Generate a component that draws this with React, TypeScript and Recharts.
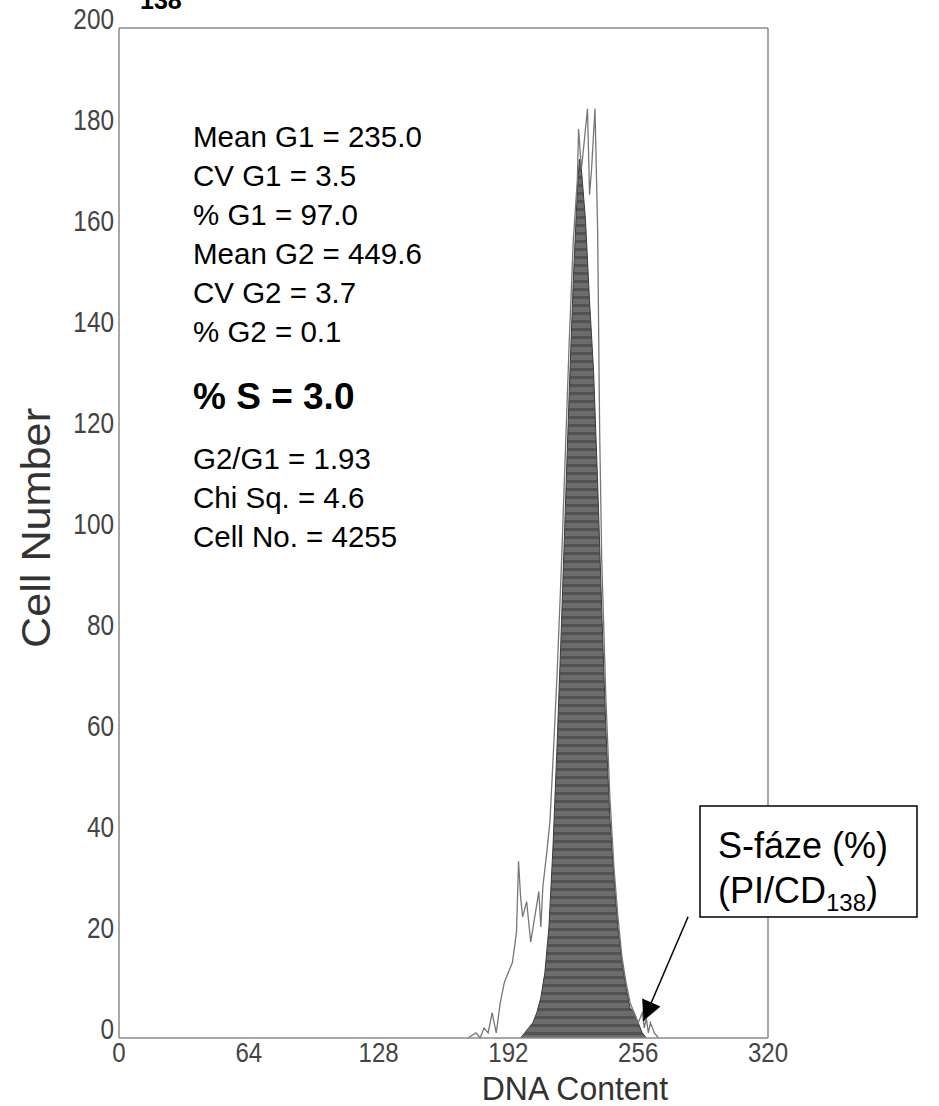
import React from 'react';
import { ComposedChart, Area, Line, XAxis, YAxis, ReferenceLine } from 'recharts';

// G1 fit (shaded peak)
const FIT_X = [198, 200, 202, 204, 206, 208, 210, 212, 214, 216, 218, 220, 222, 224, 226, 227, 228, 230, 232, 234, 236, 238, 240, 242, 244, 246, 248, 250, 252, 254, 256, 258, 260];
const FIT_Y = [0, 1, 2, 3, 5, 8, 13, 22, 38, 58, 80, 104, 128, 150, 168, 174, 172, 162, 146, 132, 110, 85, 62, 44, 32, 22, 15, 10, 6, 5, 3, 1, 0];

// raw histogram outline
const RAW_X = [172, 176, 178, 180, 182, 184, 186, 188, 190, 192, 194, 196, 197, 198, 199, 201, 203, 205, 207, 208, 209, 211, 212.5, 214, 216, 218, 220, 222, 224, 226, 226.6, 228, 229, 231, 232, 233, 234.7, 236, 237, 238, 240, 242, 244, 246, 248, 250, 252, 254, 256, 258, 259, 260, 261, 262, 264, 266];
const RAW_Y = [0, 1, 0, 2, 1, 5, 1, 7, 11, 13, 15, 21, 35, 28, 24, 27, 19, 24, 29, 22, 30, 37, 43, 55, 72, 92, 115, 138, 158, 170, 180, 172, 176, 184, 167, 172, 184, 160, 120, 95, 68, 48, 34, 24, 16, 11, 7, 5, 3, 5, 2, 4, 1, 3, 1, 0];

const X_TICKS = [0, 64, 128, 192, 256, 320];
const Y_TICKS = [0, 20, 40, 60, 80, 100, 120, 140, 160, 180, 200];

const STATS = ['Mean G1 = 235.0', 'CV G1 = 3.5', '% G1 = 97.0', 'Mean G2 = 449.6', 'CV G2 = 3.7', '% G2 = 0.1'];
const S_PHASE = '% S = 3.0';
const STATS2 = ['G2/G1 = 1.93', 'Chi Sq. = 4.6', 'Cell No. = 4255'];

const fitData = FIT_X.map((x, i) => ({ x, fit: FIT_Y[i] }));
const rawData = RAW_X.map((x, i) => ({ x, raw: RAW_Y[i] }));

const SANS = '"Liberation Sans", Arial, sans-serif';

const YTick = (p: any) => (
  <text transform={`translate(${p.x},${p.y + 1}) scale(0.84,1)`} textAnchor="end" fontSize={29} fill="#444" fontFamily={SANS}>{p.payload.value}</text>
);
const XTick = (p: any) => (
  <text transform={`translate(${p.x},${p.y + 24}) scale(0.86,1)`} textAnchor="middle" fontSize={28} fill="#444" fontFamily={SANS}>{p.payload.value}</text>
);

export default function App() {
  return (
    <div style={{ position: 'absolute', left: 0, top: 0, width: 939, height: 1106, background: '#fff' }}>
      <ComposedChart width={939} height={1106} data={fitData} margin={{ top: 28, right: 171, left: 59, bottom: 28 }}>
        <defs>
          <pattern id="bands" width="10" height="8" patternUnits="userSpaceOnUse">
            <rect width="10" height="8" fill="#6c6c6c" />
            <rect width="10" height="3" fill="#525252" />
          </pattern>
          <marker id="arrowHead" viewBox="0 0 10 10" refX="10" refY="5" markerWidth="26" markerHeight="20" markerUnits="userSpaceOnUse" orient="auto">
            <path d="M0,0 L10,5 L0,10 z" fill="#000" />
          </marker>
        </defs>
        <XAxis type="number" dataKey="x" domain={[0, 320]} ticks={X_TICKS} interval={0} height={40}
          axisLine={{ stroke: '#8a8a8a', strokeWidth: 1.5 }} tickLine={false} tickSize={0} tickMargin={0} tick={<XTick />} />
        <YAxis type="number" domain={[0, 200]} ticks={Y_TICKS} interval={0} width={60}
          axisLine={{ stroke: '#8a8a8a', strokeWidth: 1.5 }} tickLine={false} tickSize={0} tickMargin={5} tick={<YTick />} />
        <ReferenceLine y={200} stroke="#8a8a8a" strokeWidth={1.5} />
        <ReferenceLine x={320} stroke="#8a8a8a" strokeWidth={1.5} />
        <Area data={fitData} dataKey="fit" type="linear" fill="url(#bands)" fillOpacity={1} stroke="#3a3a3a" strokeWidth={1} isAnimationActive={false} dot={false} activeDot={false} />
        <Line data={rawData} dataKey="raw" type="linear" stroke="#777" strokeWidth={1.3} dot={false} activeDot={false} isAnimationActive={false} />
        <ReferenceLine segment={[{ x: 280.6, y: 24 }, { x: 258.6, y: 3.4 }]} stroke="#000" strokeWidth={1.5} markerEnd="url(#arrowHead)" ifOverflow="visible" />
      </ComposedChart>

      <svg width={939} height={1106} style={{ position: 'absolute', left: 0, top: 0, pointerEvents: 'none' }} fontFamily={SANS}>
        <text x={140} y={9} fontSize={25} fontWeight={700}>138</text>

        {STATS.map((t, i) => <text key={t} x={193} y={147 + i * 39} fontSize={29.5}>{t}</text>)}
        <text x={193} y={409} fontSize={37} fontWeight={700}>{S_PHASE}</text>
        {STATS2.map((t, i) => <text key={t} x={193} y={469 + i * 39} fontSize={29.5}>{t}</text>)}

        <rect x={700} y={806} width={217} height={111} fill="#fff" stroke="#000" strokeWidth={1.5} />
        <text x={718} y={858} fontSize={36}>S-fáze (%)</text>
        <text x={718} y={903} fontSize={36}>(PI/CD<tspan fontSize={24} dy={8}>138</tspan><tspan dy={-8}>)</tspan></text>

        <text transform="translate(575,1100) scale(0.94,1)" textAnchor="middle" fontSize={34} fill="#333">DNA Content</text>
        <text transform="translate(50,528) rotate(-90) scale(1.08,1)" textAnchor="middle" fontSize={40} fill="#333">Cell Number</text>
      </svg>
    </div>
  );
}
